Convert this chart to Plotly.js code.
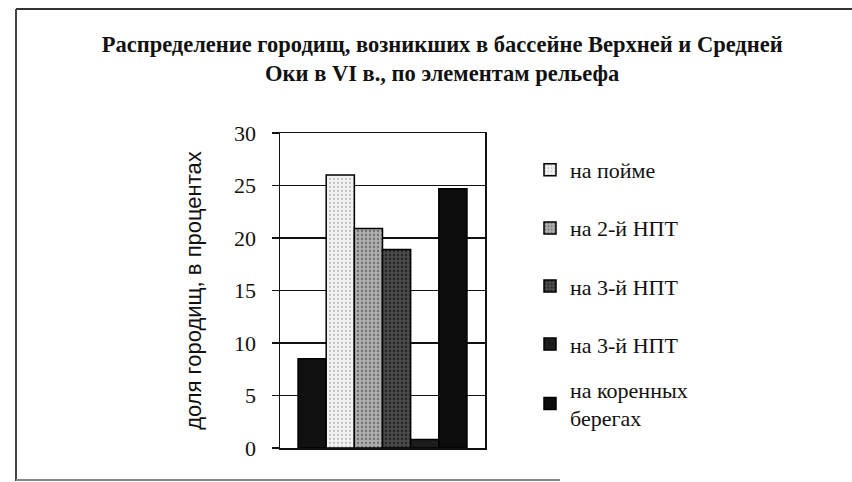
<!DOCTYPE html>
<html>
<head>
<meta charset="utf-8">
<script src="https://cdn.plot.ly/plotly-3.0.1.min.js"></script>
<style>html,body{margin:0;padding:0;background:#fff;}#chart{width:852px;height:482px;}</style>
</head>
<body>
<div id="chart"></div>
<script>
const categories = ["VI в."];
const seriesNames = ["", "на пойме", "на 2-й НПТ", "на 3-й НПТ", "на 3-й НПТ", "на коренных<br>берегах"];
const seriesValues = [8.5, 26, 20.9, 18.9, 0.8, 24.7];
const seriesColors = ["#101010", "#f3f3f3", "#adadad", "#4a4a4a", "#1c1c1c", "#0c0c0c"];
const patternFg = [null, "#c4c4c4", "#707070", "#222222", null, null];
const yTickVals = [0, 5, 10, 15, 20, 25, 30];

const traces = seriesValues.map((v, i) => {
  const marker = {color: seriesColors[i], line: {color: "#000", width: 1.5}};
  if (patternFg[i]) {
    marker.pattern = {shape: ".", fgcolor: patternFg[i], bgcolor: seriesColors[i], size: 4, solidity: 0.25};
  }
  return {
    type: "bar",
    x: categories,
    y: [v],
    name: seriesNames[i],
    showlegend: i > 0,
    legend: i === seriesValues.length - 1 ? "legend2" : "legend",
    legendgroup: "g" + i,
    marker: marker
  };
});

const L = 280, R = 485, T = 133, B = 448;
const px = x => (x - L) / (R - L);
const py = y => (B - y) / (B - T);
const legendFont = {family: "Liberation Serif", size: 22, color: "#111"};

const layout = {
  width: 852, height: 482,
  margin: {l: L, r: 852 - R, t: T, b: 482 - B},
  paper_bgcolor: "#fff", plot_bgcolor: "#fff",
  barmode: "group", bargap: 0.176, bargroupgap: 0,
  font: {family: "Liberation Serif", color: "#111"},
  title: {
    text: "<b>Распределение городищ, возникших в бассейне Верхней и Средней<br>Оки в VI в., по элементам рельефа</b>",
    font: {family: "Liberation Serif", size: 22.5, color: "#111"},
    xref: "container", x: 0.519, xanchor: "center",
    yref: "container", y: 0.893, yanchor: "top"
  },
  xaxis: {
    showticklabels: false, ticks: "", showgrid: false, zeroline: false,
    showline: true, mirror: true, linecolor: "#111", linewidth: 1.5, fixedrange: true
  },
  yaxis: {
    range: [0, 30], tickvals: yTickVals, ticktext: yTickVals.map(String),
    ticks: "outside", ticklen: 7, tickcolor: "#111", tickwidth: 1.5,
    ticklabelstandoff: 11,
    showgrid: true, gridcolor: "#111", gridwidth: 1.5, zeroline: false,
    showline: true, mirror: true, linecolor: "#111", linewidth: 1.5,
    tickfont: {family: "Liberation Serif", size: 22, color: "#111"},
    title: {text: "доля городищ, в процентах", font: {family: "Liberation Sans", size: 22, color: "#111"}, standoff: 26},
    automargin: true, fixedrange: true
  },
  legend: {
    x: px(530), xanchor: "left", y: py(149), yanchor: "top",
    font: legendFont,
    tracegroupgap: 26.5, bgcolor: "rgba(0,0,0,0)", borderwidth: 0
  },
  legend2: {
    x: px(530), xanchor: "left", y: py(404), yanchor: "middle",
    font: legendFont,
    bgcolor: "rgba(0,0,0,0)", borderwidth: 0
  },
  shapes: [
    {type: "line", xref: "paper", yref: "paper", x0: px(16), x1: px(852), y0: py(9), y1: py(9), line: {color: "#333", width: 2}},
    {type: "line", xref: "paper", yref: "paper", x0: px(16), x1: px(16), y0: py(9), y1: py(481), line: {color: "#444", width: 2}},
    {type: "line", xref: "paper", yref: "paper", x0: px(16), x1: px(560), y0: py(480), y1: py(480), line: {color: "#888", width: 2}}
  ]
};

Plotly.newPlot("chart", traces, layout, {staticPlot: true, displayModeBar: false});
</script>
</body>
</html>
